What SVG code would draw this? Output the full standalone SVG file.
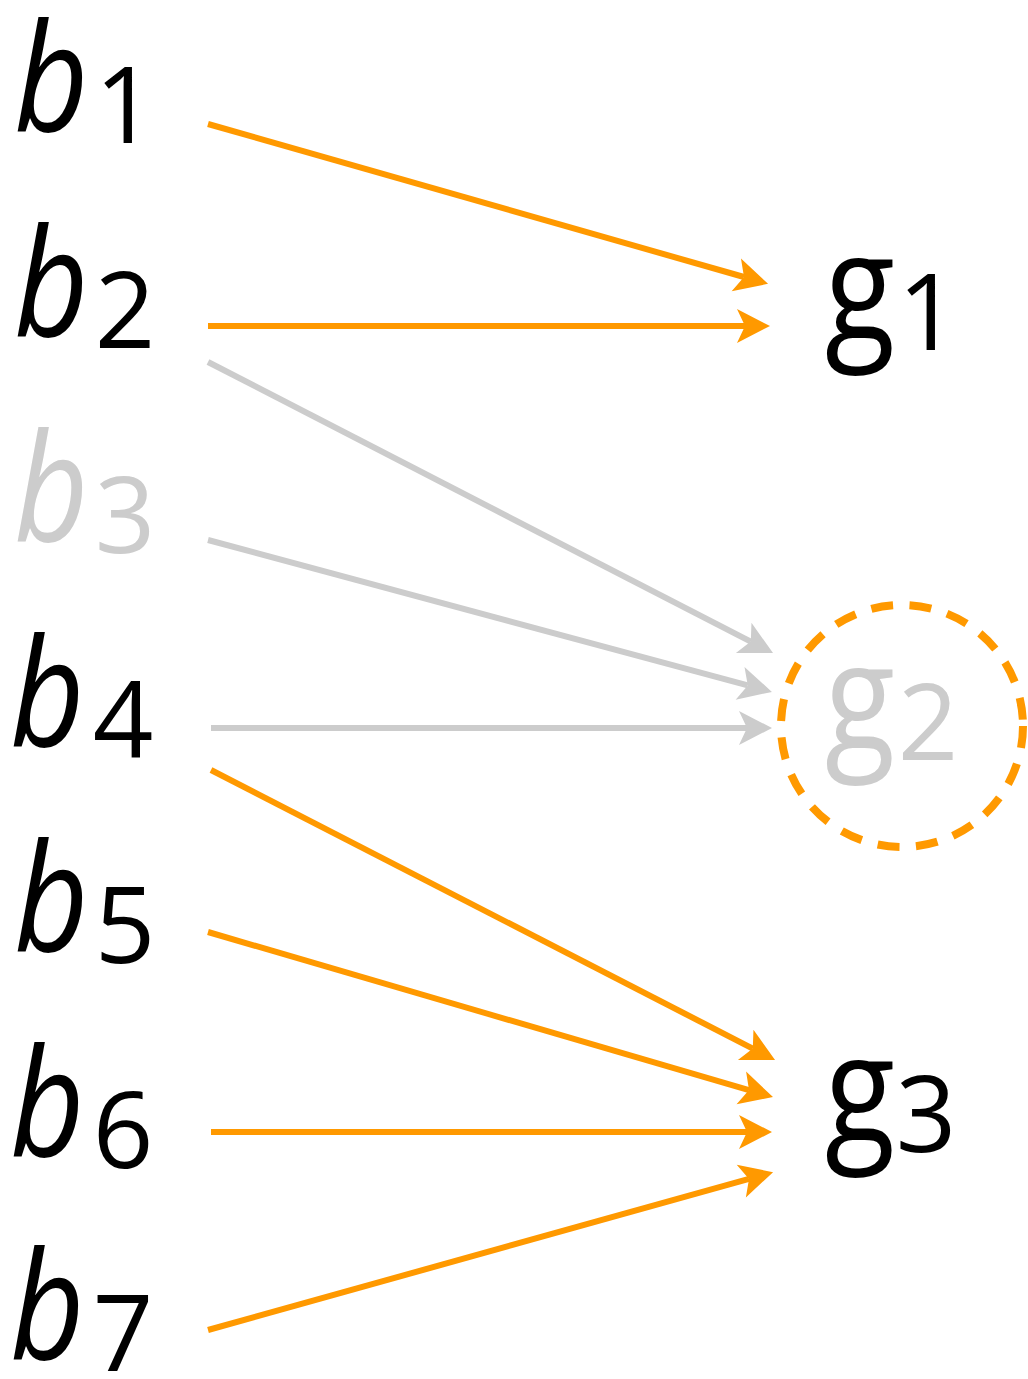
<svg xmlns="http://www.w3.org/2000/svg" width="1028" height="1379" viewBox="0 0 1028 1379">
<style>
.lb{font-family:"Open Sans","Liberation Sans",sans-serif;font-style:italic;font-weight:500;font-size:150px;fill:#000}
.lg{font-family:"Open Sans","Liberation Sans",sans-serif;font-weight:500;font-size:150px;fill:#000;text-anchor:middle}
.sub{font-family:"Open Sans","Liberation Sans",sans-serif;font-style:normal;font-size:106px;text-anchor:middle}
.grey{fill:#cccccc}
.o{stroke:#ff9900;stroke-width:6;fill:none;marker-end:url(#ao)}
.g{stroke:#cccccc;stroke-width:6;fill:none;marker-end:url(#ag)}
</style>
<defs>
<marker id="ao" markerUnits="userSpaceOnUse" markerWidth="40" markerHeight="40" viewBox="-2 -20 40 40" refX="8" refY="0" orient="auto"><path d="M0,-17 L33,0 L0,17 L8,0 Z" fill="#ff9900"/></marker>
<marker id="ag" markerUnits="userSpaceOnUse" markerWidth="40" markerHeight="40" viewBox="-2 -20 40 40" refX="8" refY="0" orient="auto"><path d="M0,-17 L33,0 L0,17 L8,0 Z" fill="#cccccc"/></marker>
</defs>
<g id="b1"><text class="lb" transform="translate(14,132) scale(0.86,1)">b</text><text class="sub" x="125" y="143">1</text></g>
<g id="b2"><text class="lb" transform="translate(14,337) scale(0.86,1)">b</text><text class="sub" x="125" y="348">2</text></g>
<g id="b3"><text class="lb grey" transform="translate(14,542) scale(0.86,1)">b</text><text class="sub grey" x="125" y="553">3</text></g>
<g id="b4"><text class="lb" transform="translate(10,747) scale(0.86,1)">b</text><text class="sub" x="123" y="758">4</text></g>
<g id="b5"><text class="lb" transform="translate(14,952) scale(0.86,1)">b</text><text class="sub" x="125" y="963">5</text></g>
<g id="b6"><text class="lb" transform="translate(10,1157) scale(0.86,1)">b</text><text class="sub" x="123" y="1168">6</text></g>
<g id="b7"><text class="lb" transform="translate(10,1360) scale(0.86,1)">b</text><text class="sub" x="123" y="1371">7</text></g>
<g id="g1"><text class="lg" transform="translate(860,340) scale(0.86,1)">g</text><text class="sub" x="928" y="350">1</text></g>
<g id="g2"><circle cx="902" cy="726" r="121" fill="none" stroke="#ff9900" stroke-width="8" stroke-dasharray="22 16.5"/><text class="lg grey" transform="translate(860,750) scale(0.86,1)">g</text><text class="sub grey" x="928" y="760">2</text></g>
<g id="g3"><text class="lg" transform="translate(860,1142) scale(0.86,1)">g</text><text class="sub" x="926" y="1152">3</text></g>
<g id="connectors">
<line class="o" x1="208" y1="124" x2="744" y2="277"/>
<line class="o" x1="208" y1="326" x2="745" y2="326"/>
<line class="g" x1="208" y1="362" x2="750.8" y2="641.6"/>
<line class="g" x1="208" y1="540" x2="747.8" y2="685.4"/>
<line class="g" x1="211" y1="728" x2="747" y2="728"/>
<line class="o" x1="211" y1="770" x2="752.8" y2="1048.6"/>
<line class="o" x1="208" y1="932" x2="749" y2="1090.1"/>
<line class="o" x1="211" y1="1132" x2="747" y2="1132"/>
<line class="o" x1="208" y1="1330" x2="749" y2="1178.9"/>
</g>
</svg>
